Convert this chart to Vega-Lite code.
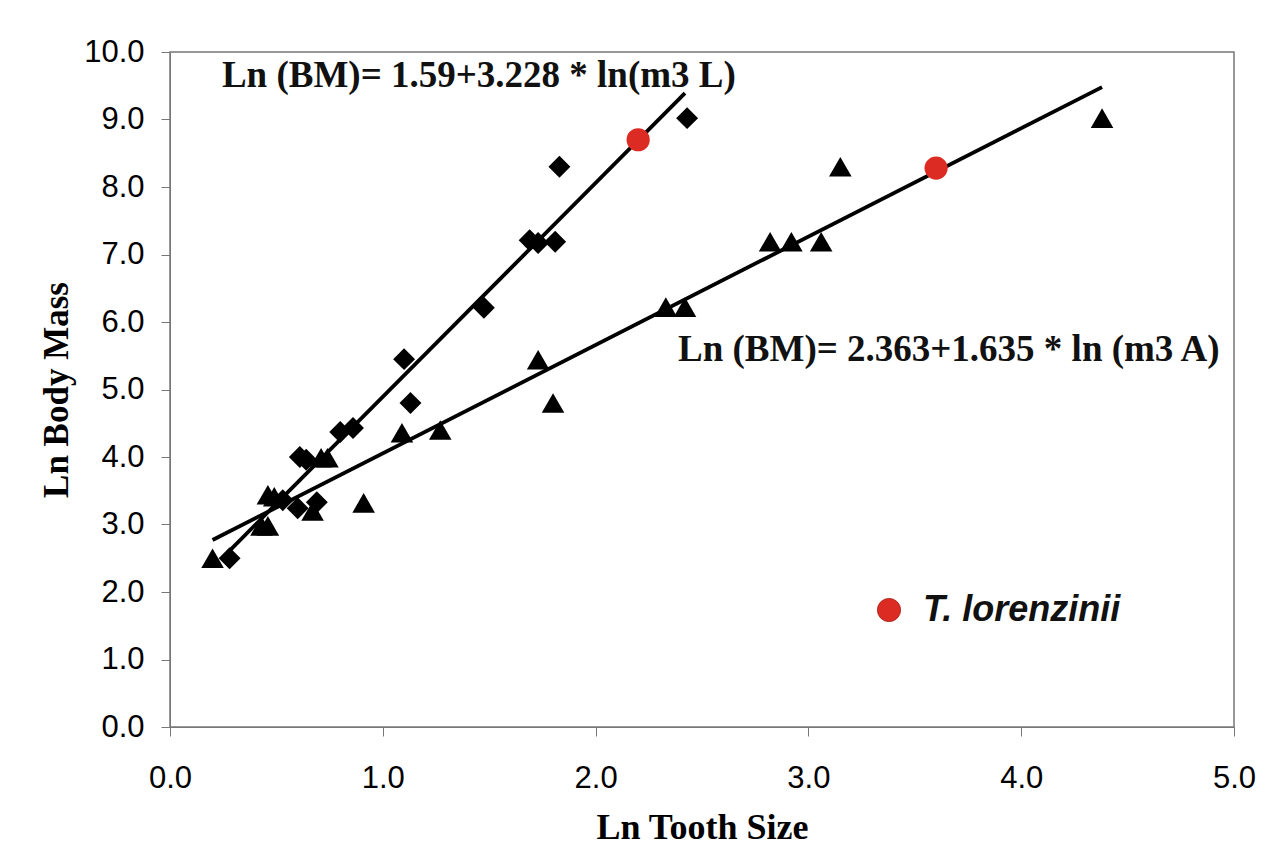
{
  "$schema": "https://vega.github.io/schema/vega-lite/v6.json",
  "width": 1064,
  "height": 675,
  "autosize": "none",
  "padding": {"left": 170, "top": 52, "right": 46, "bottom": 140},
  "background": "white",
  "config": {
    "view": {"stroke": "#777777", "strokeWidth": 1.5},
    "axis": {
      "grid": false,
      "labelFlush": false,
      "labelFont": "Liberation Sans",
      "labelFontSize": 31,
      "labelColor": "black",
      "tickColor": "#777777",
      "domainColor": "#777777",
      "tickSize": 9,
      "titleFont": "Liberation Serif",
      "titleFontWeight": "bold",
      "titleColor": "black"
    }
  },
  "datasets": {
    "pts": [
      {"x": 0.28, "y": 2.50, "series": "m3 L"},
      {"x": 0.53, "y": 3.36, "series": "m3 L"},
      {"x": 0.60, "y": 3.24, "series": "m3 L"},
      {"x": 0.69, "y": 3.33, "series": "m3 L"},
      {"x": 0.61, "y": 4.00, "series": "m3 L"},
      {"x": 0.64, "y": 3.96, "series": "m3 L"},
      {"x": 0.80, "y": 4.37, "series": "m3 L"},
      {"x": 0.86, "y": 4.43, "series": "m3 L"},
      {"x": 1.10, "y": 5.45, "series": "m3 L"},
      {"x": 1.13, "y": 4.80, "series": "m3 L"},
      {"x": 1.475, "y": 6.21, "series": "m3 L"},
      {"x": 1.69, "y": 7.21, "series": "m3 L"},
      {"x": 1.73, "y": 7.17, "series": "m3 L"},
      {"x": 1.81, "y": 7.19, "series": "m3 L"},
      {"x": 1.83, "y": 8.30, "series": "m3 L"},
      {"x": 2.43, "y": 9.02, "series": "m3 L"},
      {"x": 0.20, "y": 2.50, "series": "m3 A"},
      {"x": 0.43, "y": 2.98, "series": "m3 A"},
      {"x": 0.46, "y": 2.98, "series": "m3 A"},
      {"x": 0.46, "y": 3.44, "series": "m3 A"},
      {"x": 0.49, "y": 3.41, "series": "m3 A"},
      {"x": 0.67, "y": 3.20, "series": "m3 A"},
      {"x": 0.91, "y": 3.32, "series": "m3 A"},
      {"x": 0.71, "y": 3.99, "series": "m3 A"},
      {"x": 0.74, "y": 3.99, "series": "m3 A"},
      {"x": 1.09, "y": 4.36, "series": "m3 A"},
      {"x": 1.27, "y": 4.40, "series": "m3 A"},
      {"x": 1.73, "y": 5.44, "series": "m3 A"},
      {"x": 1.80, "y": 4.80, "series": "m3 A"},
      {"x": 2.33, "y": 6.22, "series": "m3 A"},
      {"x": 2.42, "y": 6.22, "series": "m3 A"},
      {"x": 2.82, "y": 7.19, "series": "m3 A"},
      {"x": 2.92, "y": 7.19, "series": "m3 A"},
      {"x": 3.06, "y": 7.19, "series": "m3 A"},
      {"x": 3.15, "y": 8.30, "series": "m3 A"},
      {"x": 4.38, "y": 9.02, "series": "m3 A"},
      {"x": 2.20, "y": 8.70, "series": "T. lorenzinii"},
      {"x": 3.60, "y": 8.28, "series": "T. lorenzinii"}
    ],
    "fits": [
      {"x": 0.27, "y": 2.58, "fit": "L"},
      {"x": 2.42, "y": 9.39, "fit": "L"},
      {"x": 0.20, "y": 2.77, "fit": "A"},
      {"x": 4.38, "y": 9.48, "fit": "A"}
    ],
    "eqs": [
      {"x": 0.244, "y": 9.64, "label": "Ln (BM)= 1.59+3.228 * ln(m3 L)"},
      {"x": 2.387, "y": 5.585, "label": "Ln (BM)= 2.363+1.635 * ln (m3 A)"}
    ]
  },
  "encoding": {
    "x": {
      "field": "x", "type": "quantitative",
      "scale": {"domain": [0, 5], "nice": false},
      "axis": {"title": "Ln Tooth Size", "values": [0, 1, 2, 3, 4, 5], "format": ".1f", "labelPadding": 27, "titleFontSize": 36, "titlePadding": 17}
    },
    "y": {
      "field": "y", "type": "quantitative",
      "scale": {"domain": [0, 10], "nice": false},
      "axis": {"title": "Ln Body Mass", "values": [0, 1, 2, 3, 4, 5, 6, 7, 8, 9, 10], "format": ".1f", "labelPadding": 17, "titleFontSize": 35, "titlePadding": 9}
    }
  },
  "layer": [
    {
      "data": {"name": "fits"},
      "mark": {"type": "line", "color": "black", "strokeWidth": 3.8},
      "encoding": {"detail": {"field": "fit"}}
    },
    {
      "data": {"name": "pts"},
      "mark": {"type": "point", "filled": true, "opacity": 1},
      "encoding": {
        "shape": {
          "field": "series", "type": "nominal",
          "scale": {"domain": ["m3 L", "m3 A", "T. lorenzinii"], "range": ["diamond", "triangle-up", "circle"]},
          "legend": null
        },
        "color": {
          "field": "series", "type": "nominal",
          "scale": {"domain": ["m3 L", "m3 A", "T. lorenzinii"], "range": ["black", "black", "#dc2b22"]},
          "legend": {
            "values": ["T. lorenzinii"],
            "title": null,
            "orient": "none",
            "legendX": 701,
            "legendY": 540,
            "padding": 0,
            "symbolType": "circle",
            "symbolSize": 420,
            "symbolStrokeColor": "#a52019",
            "symbolStrokeWidth": 0.8,
            "labelFont": "Liberation Sans",
            "labelFontSize": 36,
            "labelFontStyle": "italic",
            "labelFontWeight": "bold",
            "labelColor": "#111111",
            "labelOffset": 16,
            "labelLimit": 400
          }
        },
        "size": {
          "field": "series", "type": "nominal",
          "scale": {"domain": ["m3 L", "m3 A", "T. lorenzinii"], "range": [480, 540, 400]},
          "legend": null
        }
      }
    },
    {
      "data": {"name": "eqs"},
      "mark": {"type": "text", "align": "left", "baseline": "middle", "font": "Liberation Serif", "fontWeight": "bold", "fontSize": 37, "color": "#111111"},
      "encoding": {"text": {"field": "label"}}
    }
  ]
}
